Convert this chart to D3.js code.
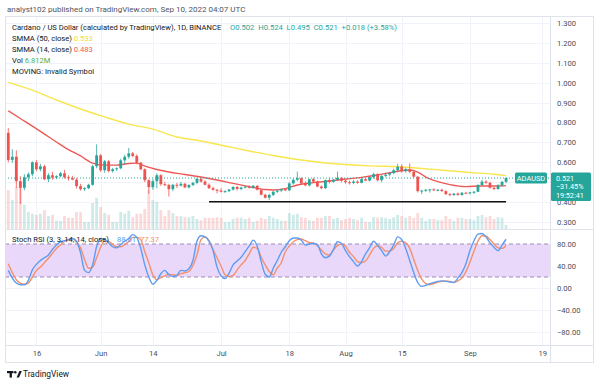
<!DOCTYPE html>
<html>
<head>
<meta charset="utf-8">
<script src="https://cdn.jsdelivr.net/npm/d3@7"></script>
<style>
  body { margin: 0; background: #fff; }
  svg { display: block; font-family: Roboto, "Liberation Sans", sans-serif; }
</style>
</head>
<body>
<svg id="chart" width="600" height="385"></svg>
<script>
const firstDay = "2022-05-09";

const opens = [0.748,0.612,0.628,0.505,0.472,0.525,0.540,0.600,0.565,0.580,0.515,0.535,0.523,0.530,0.545,0.525,0.520,0.513,0.480,0.465,
  0.470,0.487,0.580,0.635,0.560,0.605,0.556,0.565,0.570,0.610,0.628,0.645,0.632,0.598,0.565,0.510,0.475,0.505,0.535,0.490,
  0.486,0.465,0.487,0.483,0.492,0.474,0.486,0.497,0.517,0.503,0.487,0.470,0.462,0.458,0.452,0.455,0.463,0.476,0.466,0.473,
  0.478,0.472,0.482,0.462,0.437,0.422,0.436,0.452,0.458,0.465,0.459,0.494,0.512,0.520,0.494,0.484,0.515,0.503,0.478,0.470,
  0.510,0.502,0.512,0.522,0.508,0.500,0.496,0.503,0.497,0.515,0.508,0.525,0.540,0.510,0.532,0.538,0.546,0.560,0.578,0.555,
  0.565,0.552,0.528,0.455,0.458,0.462,0.464,0.460,0.462,0.455,0.440,0.436,0.443,0.436,0.447,0.444,0.449,0.452,0.486,0.503,
  0.497,0.472,0.466,0.484,0.502];
const highs = [0.772,0.665,0.660,0.530,0.540,0.550,0.605,0.612,0.592,0.588,0.545,0.552,0.535,0.552,0.562,0.535,0.532,0.520,0.492,0.476,
  0.492,0.588,0.690,0.642,0.612,0.612,0.572,0.575,0.618,0.638,0.672,0.652,0.640,0.602,0.570,0.515,0.515,0.545,0.540,0.502,
  0.492,0.492,0.497,0.502,0.497,0.490,0.502,0.522,0.522,0.510,0.494,0.478,0.466,0.470,0.460,0.466,0.480,0.482,0.478,0.482,
  0.485,0.486,0.485,0.465,0.442,0.442,0.456,0.462,0.468,0.470,0.500,0.518,0.553,0.524,0.505,0.518,0.522,0.508,0.484,0.514,
  0.520,0.516,0.553,0.526,0.512,0.508,0.512,0.510,0.522,0.520,0.530,0.548,0.545,0.535,0.548,0.552,0.568,0.592,0.590,0.572,
  0.595,0.556,0.530,0.462,0.466,0.466,0.470,0.466,0.468,0.460,0.446,0.446,0.448,0.450,0.452,0.452,0.456,0.490,0.512,0.510,
  0.502,0.476,0.490,0.506,0.524];
const lows = [0.600,0.598,0.470,0.390,0.460,0.505,0.530,0.555,0.555,0.510,0.500,0.512,0.515,0.525,0.518,0.508,0.510,0.468,0.458,0.455,
  0.465,0.482,0.570,0.552,0.548,0.550,0.548,0.556,0.565,0.590,0.618,0.625,0.590,0.560,0.500,0.442,0.462,0.470,0.482,0.480,
  0.428,0.455,0.470,0.478,0.470,0.468,0.480,0.490,0.498,0.484,0.466,0.458,0.444,0.448,0.447,0.450,0.458,0.458,0.460,0.468,
  0.468,0.468,0.458,0.434,0.418,0.410,0.430,0.446,0.450,0.455,0.456,0.488,0.505,0.488,0.480,0.478,0.498,0.475,0.465,0.466,
  0.494,0.498,0.505,0.500,0.492,0.488,0.490,0.492,0.494,0.505,0.504,0.518,0.505,0.500,0.525,0.530,0.540,0.552,0.548,0.548,
  0.545,0.522,0.448,0.440,0.452,0.448,0.455,0.454,0.452,0.436,0.430,0.430,0.432,0.432,0.440,0.438,0.442,0.450,0.482,0.492,
  0.468,0.460,0.462,0.478,0.495];
const closes = [0.612,0.628,0.505,0.472,0.525,0.540,0.600,0.565,0.580,0.515,0.535,0.523,0.530,0.545,0.525,0.520,0.513,0.480,0.465,0.470,
  0.487,0.580,0.635,0.560,0.605,0.556,0.565,0.570,0.610,0.628,0.645,0.632,0.598,0.565,0.510,0.475,0.505,0.535,0.490,0.486,
  0.465,0.487,0.483,0.492,0.474,0.486,0.497,0.517,0.503,0.487,0.470,0.462,0.458,0.452,0.455,0.463,0.476,0.466,0.473,0.478,
  0.472,0.482,0.462,0.437,0.422,0.436,0.452,0.458,0.465,0.459,0.494,0.512,0.520,0.494,0.484,0.515,0.503,0.478,0.470,0.510,
  0.502,0.512,0.522,0.508,0.500,0.496,0.503,0.497,0.515,0.508,0.525,0.540,0.510,0.532,0.538,0.546,0.560,0.578,0.555,0.565,
  0.552,0.528,0.455,0.458,0.462,0.464,0.460,0.462,0.455,0.440,0.436,0.443,0.436,0.447,0.444,0.449,0.452,0.486,0.503,0.497,
  0.472,0.466,0.484,0.502,0.521];
// volume, millions
const volumes = [66,49,71,78,41,29,26,24,26,32,22,24,14,14,22,19,19,29,29,12,
  12,44,53,37,27,24,12,12,29,26,31,20,26,26,34,66,49,46,32,22,
  32,27,22,22,20,20,22,17,15,19,19,19,20,19,12,12,17,19,19,17,
  19,12,14,19,17,22,19,17,14,14,27,24,26,20,19,15,14,19,19,22,
  22,17,19,15,17,19,17,15,19,12,12,20,19,20,19,17,20,24,22,19,
  22,19,27,19,14,17,17,15,15,22,17,14,19,19,17,17,15,22,24,20,
  22,17,20,19,6.812];
// Stoch RSI (3, 3, 14, 14, close)
const stochK = [32,18,9,6,6,14,33,43,50,55,60,70,78,84,86,88,90,85,64,32,
  28,42,75,90,88,82,75,73,79,85,90,97,92,72,42,20,7,14,26,32,
  24,21,23,32,31,35,50,85,95,93,85,68,38,22,17,27,42,49,56,66,
  76,87,76,48,25,20,36,50,65,75,86,91,91,87,78,80,81,79,62,55,
  58,70,84,81,68,57,48,40,48,62,73,85,77,68,58,66,78,93,88,72,
  50,28,10,3,5,8,10,12,13,12,11,10,18,28,44,68,86,98,99,93,
  82,74,68,78,88.61];
const stochD = [44,28,15,9,7,9,20,32,38,46,54,63,72,78,85,88,90,83,73,52,
  36,38,55,74,86,85,79,75,75,79,84,92,92,88,66,46,24,15,19,22,
  25,24,23,26,28,30,41,60,88,93,86,70,55,40,24,21,23,33,42,50,
  62,74,72,56,42,30,24,36,46,66,76,84,88,89,86,83,82,77,69,62,
  60,69,77,80,76,65,57,48,46,49,60,72,77,74,67,67,72,82,85,82,
  72,52,32,16,8,6,8,11,12,13,12,10,13,18,30,47,67,85,95,94,
  88,80,73,72,77.37];

// SMMA lines, read at sample days
const smma50Dates = ["2022-05-09","2022-05-15","2022-05-21","2022-05-27","2022-06-02","2022-06-08","2022-06-14","2022-06-20",
  "2022-06-26","2022-07-02","2022-07-08","2022-07-14","2022-07-20","2022-07-26","2022-08-01","2022-08-07","2022-08-14",
  "2022-08-20","2022-08-26","2022-09-01","2022-09-07","2022-09-10"];
const smma50 = [1.002,0.963,0.913,0.868,0.828,0.792,0.767,0.727,0.707,0.682,0.657,0.634,0.614,0.599,0.589,0.582,0.578,
  0.569,0.559,0.549,0.540,0.533];
const smma14Dates = ["2022-05-09","2022-05-12","2022-05-15","2022-05-18","2022-05-21","2022-05-24","2022-05-27","2022-05-30",
  "2022-06-02","2022-06-05","2022-06-08","2022-06-10","2022-06-12","2022-06-15","2022-06-18","2022-06-22","2022-06-26",
  "2022-06-30","2022-07-04","2022-07-08","2022-07-12","2022-07-14","2022-07-17","2022-07-20","2022-07-24","2022-07-28",
  "2022-08-01","2022-08-05","2022-08-09","2022-08-13","2022-08-17","2022-08-19","2022-08-21","2022-08-24","2022-08-27",
  "2022-08-31","2022-09-04","2022-09-07","2022-09-10"];
const smma14 = [0.859,0.820,0.782,0.742,0.702,0.664,0.632,0.596,0.586,0.586,0.594,0.596,0.581,0.564,0.551,0.539,0.526,
  0.511,0.494,0.478,0.463,0.461,0.468,0.486,0.498,0.506,0.516,0.524,0.536,0.551,0.561,0.551,0.526,0.503,0.488,
  0.478,0.481,0.481,0.483];

// hand-drawn support line
const supportLevel = 0.402;
const supportFrom = "2022-06-28", supportTo = "2022-09-10";

const priceTicks = [0.3,0.4,0.5,0.6,0.7,0.8,0.9,1.0,1.1,1.2,1.3];
const stochTicks = [-80,-40,0,40,80];
const timeTickDates = ["2022-05-16","2022-06-01","2022-06-14","2022-07-01","2022-07-18","2022-08-01","2022-08-15","2022-09-01","2022-09-19"];
const timeTickLabels = ["16","Jun","14","Jul","18","Aug","15","Sep","19"];

const parse = d3.utcParse("%Y-%m-%d");
const day0 = parse(firstDay);
const days = closes.map((c, i) => d3.utcDay.offset(day0, i));

const UP = "#26a69a", DOWN = "#ef5350";
const K_COL = "#5d9cf0", D_COL = "#f4906c";
const svg = d3.select("#chart");

// layout
const padL = 5, plotR = 550, frameR = 593.5, padT = 16, paneSplit = 229, timeTop = 345, padB = 362;

const x = d3.scaleUtc().domain([day0, parse("2022-09-19")]).range([8.3, 542.2]);
const yP = d3.scaleLinear().domain([0.3, 1.3]).range([222, 23]);
const yV = d3.scaleLinear().domain([0, 78]).range([paneSplit, 183]);
const yS = d3.scaleLinear().domain([-80, 80]).range([332, 244]);

const defs = svg.append("defs");
defs.append("clipPath").attr("id", "clipP").append("rect")
  .attr("x", padL).attr("y", padT).attr("width", plotR - padL).attr("height", paneSplit - padT);
defs.append("clipPath").attr("id", "clipS").append("rect")
  .attr("x", padL).attr("y", paneSplit).attr("width", plotR - padL).attr("height", timeTop - paneSplit);

// grid
const grid = svg.append("g").attr("stroke", "#f0f3fa").attr("stroke-width", 1);
timeTickDates.forEach(d => {
  const xx = Math.round(x(parse(d))) + 0.5;
  grid.append("line").attr("x1", xx).attr("x2", xx).attr("y1", padT).attr("y2", timeTop);
});
priceTicks.forEach(v => {
  const yy = Math.round(yP(v)) + 0.5;
  grid.append("line").attr("x1", padL).attr("x2", plotR).attr("y1", yy).attr("y2", yy);
});
stochTicks.forEach(v => {
  const yy = Math.round(yS(v)) + 0.5;
  grid.append("line").attr("x1", padL).attr("x2", plotR).attr("y1", yy).attr("y2", yy);
});

// price pane
const pp = svg.append("g").attr("clip-path", "url(#clipP)");

// volume
pp.append("g").selectAll("rect").data(volumes).join("rect")
  .attr("x", (d, i) => x(days[i]) - 1.4)
  .attr("width", 2.8)
  .attr("y", d => yV(d))
  .attr("height", d => paneSplit - yV(d))
  .attr("fill", (d, i) => closes[i] >= opens[i] ? "rgba(38,166,154,0.22)" : "rgba(239,83,80,0.22)");

// SMMA lines
const line50 = d3.line().x((d, i) => x(parse(smma50Dates[i]))).y(d => yP(d)).curve(d3.curveMonotoneX);
const line14 = d3.line().x((d, i) => x(parse(smma14Dates[i]))).y(d => yP(d)).curve(d3.curveMonotoneX);
pp.append("path").attr("d", line50(smma50)).attr("fill", "none").attr("stroke", "#f7e64e").attr("stroke-width", 1.4);
pp.append("path").attr("d", line14(smma14)).attr("fill", "none").attr("stroke", "#ec5a57").attr("stroke-width", 1.4);

// last price line
const lastY = yP(closes[closes.length - 1]);
pp.append("line").attr("x1", padL).attr("x2", plotR).attr("y1", lastY).attr("y2", lastY)
  .attr("stroke", UP).attr("stroke-width", 1).attr("stroke-dasharray", "1,2");

// candles
const cg = pp.append("g").selectAll("g").data(closes).join("g")
  .attr("fill", (c, i) => c >= opens[i] ? UP : DOWN)
  .attr("stroke", (c, i) => c >= opens[i] ? UP : DOWN);
cg.append("line")
  .attr("x1", (c, i) => x(days[i])).attr("x2", (c, i) => x(days[i]))
  .attr("y1", (c, i) => yP(highs[i])).attr("y2", (c, i) => yP(lows[i]))
  .attr("stroke-width", 0.8);
cg.append("rect")
  .attr("stroke", "none")
  .attr("x", (c, i) => x(days[i]) - 1.4)
  .attr("width", 2.8)
  .attr("y", (c, i) => yP(Math.max(c, opens[i])))
  .attr("height", (c, i) => Math.max(1, Math.abs(yP(c) - yP(opens[i]))));

// support line
pp.append("line")
  .attr("x1", x(parse(supportFrom))).attr("x2", x(parse(supportTo)))
  .attr("y1", yP(supportLevel)).attr("y2", yP(supportLevel))
  .attr("stroke", "#111").attr("stroke-width", 1.6);

// stoch pane
const sp = svg.append("g").attr("clip-path", "url(#clipS)");
sp.append("rect").attr("x", padL).attr("width", plotR - padL)
  .attr("y", yS(80)).attr("height", yS(20) - yS(80)).attr("fill", "#ead8fb");
[80, 20].forEach(v => {
  sp.append("line").attr("x1", padL).attr("x2", plotR).attr("y1", yS(v)).attr("y2", yS(v))
    .attr("stroke", "#9f8bb3").attr("stroke-width", 1).attr("stroke-dasharray", "4,3");
});
const sLine = d3.line().x((d, i) => x(days[i])).y(d => yS(d)).curve(d3.curveMonotoneX);
sp.append("path").attr("d", sLine(stochD)).attr("fill", "none").attr("stroke", D_COL).attr("stroke-width", 1.4);
sp.append("path").attr("d", sLine(stochK)).attr("fill", "none").attr("stroke", K_COL).attr("stroke-width", 1.4);

// frame
const fr = svg.append("g").attr("stroke", "#e0e3eb").attr("fill", "none");
fr.append("rect").attr("x", padL + 0.5).attr("y", padT + 0.5).attr("width", frameR - padL - 0.5).attr("height", padB - padT);
fr.append("line").attr("x1", plotR + 0.5).attr("x2", plotR + 0.5).attr("y1", padT).attr("y2", padB);
fr.append("line").attr("x1", padL).attr("x2", frameR).attr("y1", paneSplit + 0.5).attr("y2", paneSplit + 0.5);
fr.append("line").attr("x1", padL).attr("x2", frameR).attr("y1", timeTop + 0.5).attr("y2", timeTop + 0.5);

// axes (0.500 sits under the last-price tag, so it is not labelled)
const axisText = "#4a4e59";
const pAxis = svg.append("g").attr("transform", `translate(${plotR + 6},0)`)
  .call(d3.axisRight(yP).tickValues(priceTicks.filter(v => Math.abs(yP(v) - lastY) > 8))
    .tickFormat(d3.format(".3f")).tickSize(0));
const sAxis = svg.append("g").attr("transform", `translate(${plotR + 6},0)`)
  .call(d3.axisRight(yS).tickValues(stochTicks).tickFormat(d => d3.format(".2f")(d)).tickSize(0));
const tAxis = svg.append("g").attr("transform", `translate(0,${timeTop + 3})`)
  .call(d3.axisBottom(x).tickValues(timeTickDates.map(parse)).tickFormat((d, i) => timeTickLabels[i]).tickSize(0));
[pAxis, sAxis, tAxis].forEach(a => {
  a.select(".domain").remove();
  a.selectAll("text").attr("fill", axisText).style("font-size", "7.6px").style("font-family", "Roboto, sans-serif");
});
pAxis.selectAll("text").attr("x", 1);
sAxis.selectAll("text").attr("x", 1);

// last price tags
svg.append("rect").attr("x", 515).attr("y", lastY - 5.5).attr("width", 32).attr("height", 11).attr("rx", 1.5).attr("fill", UP);
svg.append("text").attr("x", 531).attr("y", lastY + 2.6).attr("text-anchor", "middle")
  .attr("fill", "#fff").style("font-size", "7.4px").text("ADAUSD");
svg.append("rect").attr("x", 551).attr("y", lastY - 5.5).attr("width", 40).attr("height", 28.5).attr("rx", 1.5).attr("fill", UP);
const tag = svg.append("g").attr("fill", "#fff").style("font-size", "7.2px");
tag.append("text").attr("x", 556).attr("y", lastY + 2.6).text("0.521");
tag.append("text").attr("x", 556).attr("y", lastY + 11.3).text("\u221231.45%");
tag.append("text").attr("x", 556).attr("y", lastY + 20).text("19:52:41");

// legends
const lg = svg.append("g").style("font-size", "7.6px").attr("fill", "#131722");
lg.append("text").attr("x", 7).attr("y", 12).attr("fill", "#50535e").style("font-size", "8px")
  .text("analyst102 published on TradingView.com, Sep 10, 2022 04:07 UTC");
lg.append("text").attr("x", 12).attr("y", 29.5).text("Cardano / US Dollar (calculated by TradingView), 1D, BINANCE");
lg.append("text").attr("x", 230).attr("y", 29.5).attr("fill", UP)
  .attr("textLength", 167).attr("lengthAdjust", "spacingAndGlyphs").attr("xml:space", "preserve")
  .text("O0.502  H0.524  L0.495  C0.521  +0.018 (+3.58%)");
const l2 = lg.append("text").attr("x", 12).attr("y", 40.5);
l2.append("tspan").text("SMMA (50, close) ");
l2.append("tspan").attr("fill", "#eedc3a").text(" 0.533");
const l3 = lg.append("text").attr("x", 12).attr("y", 51.5);
l3.append("tspan").text("SMMA (14, close) ");
l3.append("tspan").attr("fill", "#ec5a57").text(" 0.483");
const l4 = lg.append("text").attr("x", 12).attr("y", 62.8);
l4.append("tspan").text("Vol ");
l4.append("tspan").attr("fill", "#4caf50").text(" 6.812M");
lg.append("text").attr("x", 12).attr("y", 73.8).text("MOVING: Invalid Symbol");
lg.append("text").attr("x", 12).attr("y", 241.8).text("Stoch RSI (3, 3, 14, 14, close)");
lg.append("text").attr("x", 117).attr("y", 241.8).attr("fill", K_COL).text("88.61");
lg.append("text").attr("x", 140).attr("y", 241.8).attr("fill", D_COL).text("77.37");

// footer logo
const logo = svg.append("g").attr("fill", "#131722");
logo.append("rect").attr("x", 7).attr("y", 371).attr("width", 6.5).attr("height", 2.2);
logo.append("rect").attr("x", 9.6).attr("y", 371).attr("width", 2.3).attr("height", 6.6);
logo.append("circle").attr("cx", 15.3).attr("cy", 372.2).attr("r", 1.2);
logo.append("path").attr("d", "M16.6,377.6 L19.4,371 L21.8,371 L19,377.6 Z");
svg.append("text").attr("x", 23).attr("y", 376.5).attr("fill", "#131722").style("font-size", "8.4px").text("TradingView");
</script>
</body>
</html>
